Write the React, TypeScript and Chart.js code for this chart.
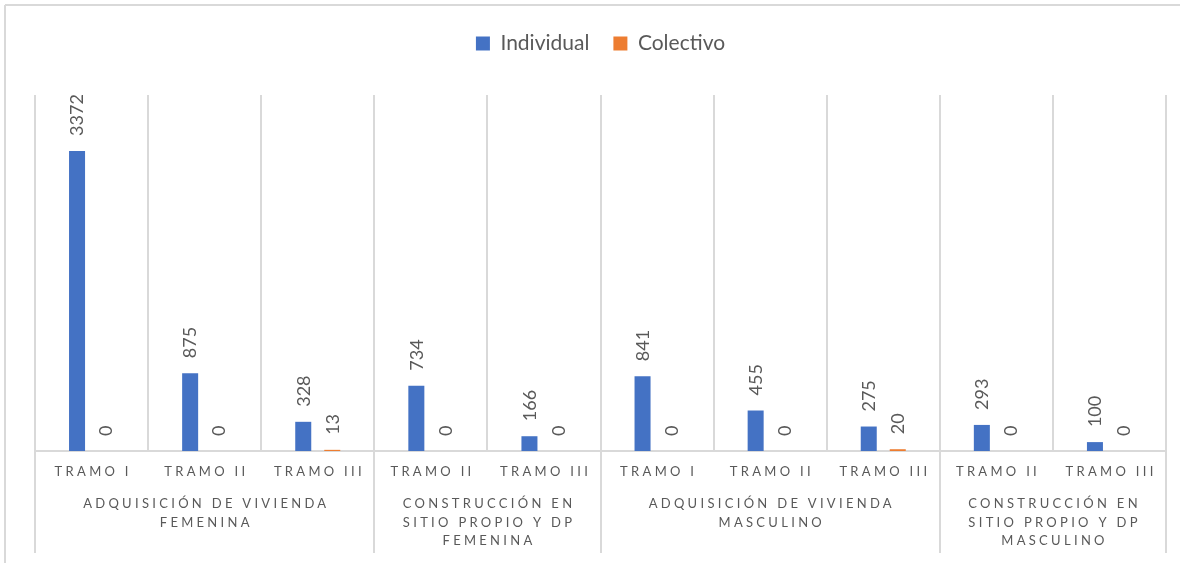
import React, { useEffect, useRef } from "react";
import { Chart, registerables } from "chart.js";

Chart.register(...registerables);

const tramoLabels = [
  "TRAMO I", "TRAMO II", "TRAMO III",
  "TRAMO II", "TRAMO III",
  "TRAMO I", "TRAMO II", "TRAMO III",
  "TRAMO II", "TRAMO III",
];

const groupLabels = [
  ["ADQUISICIÓN DE VIVIENDA", "FEMENINA"],
  ["CONSTRUCCIÓN EN", "SITIO PROPIO Y DP", "FEMENINA"],
  ["ADQUISICIÓN DE VIVIENDA", "MASCULINO"],
  ["CONSTRUCCIÓN EN", "SITIO PROPIO Y DP", "MASCULINO"],
];
const groupSpans = [3, 2, 3, 2];

const individualValues = [3372, 875, 328, 734, 166, 841, 455, 275, 293, 100];
const colectivoValues = [0, 0, 13, 0, 0, 0, 0, 20, 0, 0];

const seriesNames = ["Individual", "Colectivo"];
const seriesColors = ["#4472C4", "#ED7D31"];

const TEXT = "#595959";
const GRID = "#d9d9d9";
const FONT = "Lato, 'Open Sans', sans-serif";

const dataLabelPlugin = {
  id: "rotatedDataLabels",
  afterDatasetsDraw(chart: any) {
    const ctx = chart.ctx;
    chart.data.datasets.forEach((ds: any, di: number) => {
      const meta = chart.getDatasetMeta(di);
      meta.data.forEach((el: any, i: number) => {
        const v = ds.data[i];
        ctx.save();
        ctx.translate(el.x + 0.5, el.y - 15);
        ctx.rotate(-Math.PI / 2);
        ctx.font = `18px ${FONT}`;
        ctx.fillStyle = TEXT;
        ctx.textAlign = "left";
        ctx.textBaseline = "middle";
        ctx.fillText(String(v), 0, 0);
        ctx.restore();
      });
    });
  },
};

const multiAxisPlugin = {
  id: "multiLevelAxis",
  afterDraw(chart: any) {
    const ctx = chart.ctx;
    const area = chart.chartArea;
    const xs = chart.scales.x;
    const n = tramoLabels.length;
    const cw = (area.right - area.left) / n;
    const bottom = area.bottom;
    ctx.save();
    // outer frame (top + left)
    ctx.strokeStyle = GRID;
    ctx.lineWidth = 2;
    ctx.beginPath();
    ctx.moveTo(5, 5);
    ctx.lineTo(1180, 5);
    ctx.moveTo(5, 5);
    ctx.lineTo(5, 563);
    ctx.stroke();

    // tramo labels
    ctx.fillStyle = TEXT;
    ctx.font = `13px ${FONT}`;
    ctx.textAlign = "center";
    ctx.textBaseline = "middle";
    const sp = 3.3;
    (ctx as any).letterSpacing = `${sp}px`;
    tramoLabels.forEach((t, i) => {
      const x = xs.getPixelForValue(i);
      ctx.fillText(t, x + sp / 2, bottom + 21);
    });

    // group labels + boundaries
    let start = 0;
    const bounds = [0];
    groupSpans.forEach((span, g) => {
      const x0 = area.left + start * cw;
      const x1 = area.left + (start + span) * cw;
      const cx = (x0 + x1) / 2;
      groupLabels[g].forEach((line, li) => {
        ctx.fillText(line, cx + sp / 2, bottom + 53 + li * 18.5);
      });
      start += span;
      bounds.push(start);
    });
    (ctx as any).letterSpacing = "0px";
    ctx.strokeStyle = GRID;
    ctx.lineWidth = 2;
    ctx.beginPath();
    bounds.forEach((b) => {
      const x = Math.round(area.left + b * cw);
      ctx.moveTo(x, bottom);
      ctx.lineTo(x, bottom + 102);
    });
    ctx.stroke();
    ctx.restore();
  },
};

export default function App() {
  const ref = useRef<HTMLCanvasElement | null>(null);
  useEffect(() => {
    if (!ref.current) return;
    const chart = new Chart(ref.current, {
      type: "bar",
      data: {
        labels: tramoLabels,
        datasets: [
          {
            label: seriesNames[0],
            data: individualValues,
            backgroundColor: seriesColors[0],
            borderWidth: 0,
            categoryPercentage: 0.513,
            barPercentage: 0.552,
          },
          {
            label: seriesNames[1],
            data: colectivoValues,
            backgroundColor: seriesColors[1],
            borderWidth: 0,
            categoryPercentage: 0.513,
            barPercentage: 0.552,
          },
        ],
      },
      options: {
        responsive: false,
        animation: false,
        devicePixelRatio: 1,
        layout: { padding: { left: 35, right: 23, top: 9, bottom: 0 } },
        plugins: {
          legend: {
            position: "top",
            labels: {
              boxWidth: 14,
              boxHeight: 14,
              padding: 24,
              color: TEXT,
              font: { family: FONT, size: 21 },
            },
          },
          title: {
            display: true,
            text: " ",
            weight: 500,
            font: { size: 10 },
            padding: { top: 10, bottom: 9 },
          } as any,
          tooltip: { enabled: false },
        },
        scales: {
          x: {
            grid: { display: true, color: GRID, lineWidth: 2, drawTicks: false, offset: true },
            border: { display: true, color: GRID, width: 2 },
            ticks: { display: false },
            afterFit: (scale: any) => {
              scale.height = 112;
            },
          },
          y: {
            display: false,
            min: 0,
            max: 4000,
          },
        },
      },
      plugins: [dataLabelPlugin, multiAxisPlugin],
    });
    return () => chart.destroy();
  }, []);
  return (
    <div style={{ position: "fixed", left: 0, top: 0, width: 1189, height: 563, background: "#fff" }}>
      <canvas ref={ref} width={1189} height={563} style={{ display: "block" }} />
    </div>
  );
}
